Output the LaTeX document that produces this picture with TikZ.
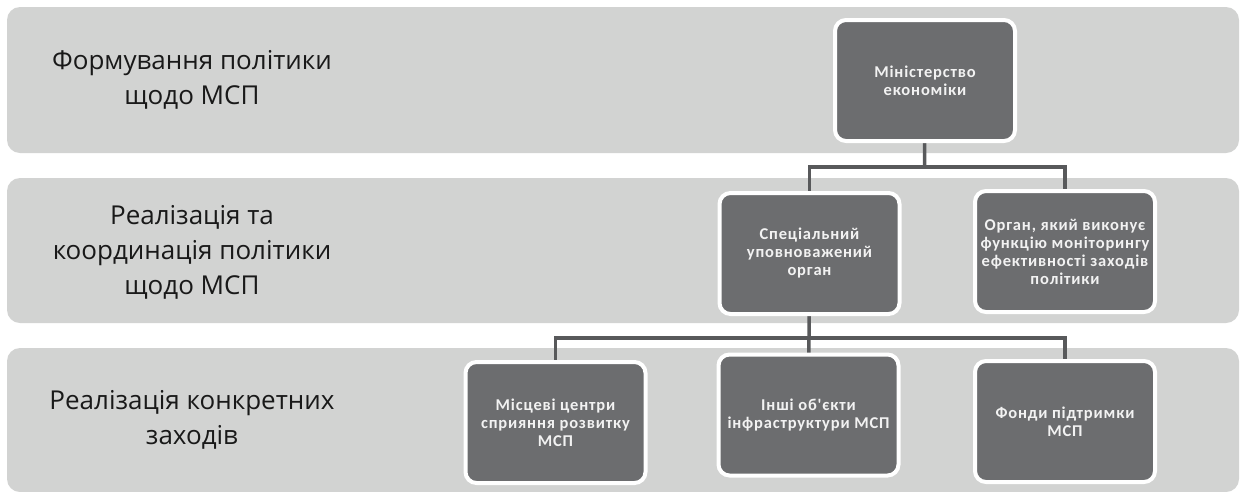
\documentclass[tikz,border=0pt]{standalone}
\usepackage{fontspec}
\newfontfamily\lblfont{Open Sans}
\newfontfamily\bxfont[LetterSpace=5]{Carlito}
\definecolor{bandgray}{HTML}{D2D3D2}
\definecolor{boxgray}{HTML}{6C6D6F}
\definecolor{linegray}{HTML}{58595B}
\tikzset{
  band/.style={fill=bandgray, draw=none, rounded corners=13pt},
  lbl/.style={align=center, font=\lblfont\fontsize{26}{35}\selectfont, text=black!90},
  orgbox/.style={fill=boxgray, draw=white, line width=4pt, rounded corners=11pt,
    minimum width=180pt, minimum height=121pt, align=center, text=white!95!black,
    font=\bxfont\bfseries\fontsize{16.5}{18}\selectfont, inner sep=2pt},
  conn/.style={draw=linegray, line width=3.5pt}
}
\begin{document}
\begin{tikzpicture}[x=1pt,y=-1pt]
\useasboundingbox (0,0) rectangle (1240,491);
% bands
\path[band] (7,7) rectangle (1239,153);
\path[band] (7,178) rectangle (1239,323);
\path[band] (7,348) rectangle (1239,492);
% labels
\node[lbl] (l1) at (192,80) {Формування політики\\щодо МСП};
\node[lbl] (l2) at (192,252) {Реалізація та\\координація політики\\щодо МСП};
\node[lbl] (l3) at (192,420) {Реалізація конкретних\\заходів};
% junctions
\coordinate (j1) at (924.5,167);
\coordinate (j2) at (809,338);
% connectors (behind boxes)
\draw[conn] (925,80) -- (j1);
\draw[conn] (809.5,252) |- (j1) -| (1065,252);
\draw[conn] (809.5,252) -- (j2);
\draw[conn] (555.5,420) |- (j2) -| (1065,420);
\draw[conn] (808.5,415) -- (j2);
% boxes
\node[orgbox] (min) at (925,80.5) {Міністерство\\економіки};
\node[orgbox] (spec) at (809.5,253.5) {Спеціальний\\уповноважений\\орган};
\node[orgbox] (mon) at (1065,251.5) {Орган, який виконує\\функцію моніторингу\\ефективності заходів\\політики};
\node[orgbox] (b1) at (555.5,422.5) {Місцеві центри\\сприяння розвитку\\МСП};
\node[orgbox] (b2) at (808.5,415) {Інші об'єкти\\інфраструктури МСП};
\node[orgbox] (b3) at (1065,421.5) {Фонди підтримки\\МСП};
\end{tikzpicture}
\end{document}
